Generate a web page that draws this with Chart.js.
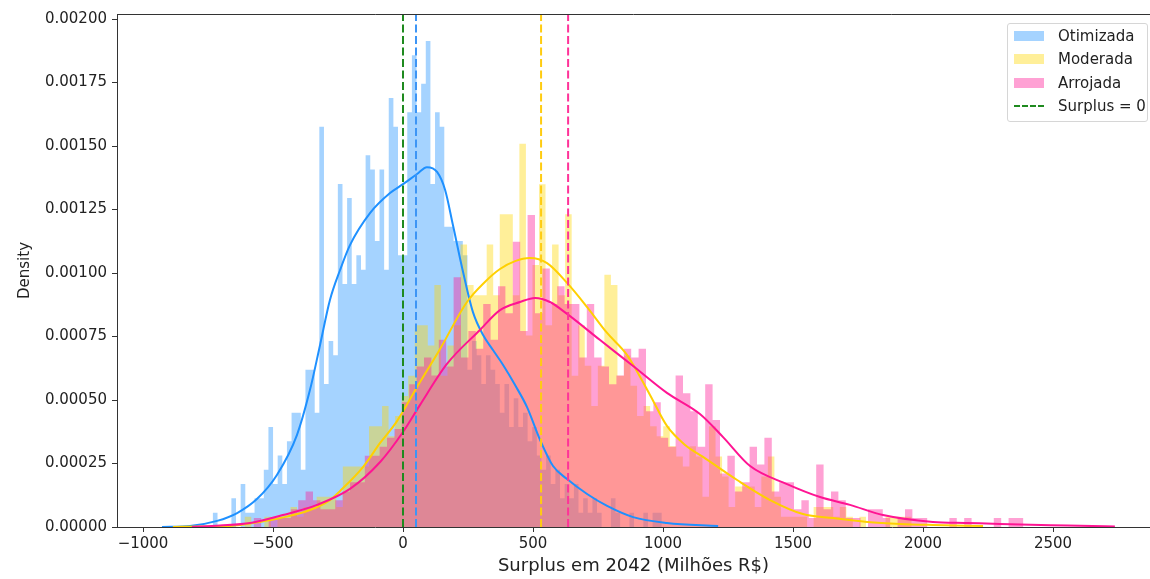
<!DOCTYPE html>
<html>
<head>
<meta charset="utf-8">
<script src="https://cdn.jsdelivr.net/npm/chart.js@4.4.0/dist/chart.umd.min.js"></script>
<style>
  body { margin: 0; background: #fff; }
  #wrap { position: relative; width: 1150px; height: 579px; }
  #grafico { position: absolute; left: 0; top: 0; width: 1150px; height: 579px; }
  #legenda {
    position: absolute; left: 1007px; top: 23px; width: 139px; height: 97px;
    border: 1px solid #d6d6d6; border-radius: 3px; background: rgba(255,255,255,0.8);
    font-family: "DejaVu Sans", sans-serif; font-size: 15px; color: #222;
  }
  .item { position: absolute; left: 0; height: 20px; width: 139px; }
  .item span.cx { position: absolute; left: 6px; top: 5px; width: 30px; height: 10px; }
  .item span.tx { position: absolute; left: 50px; top: 0; line-height: 20px; white-space: nowrap; }
  .item span.ln { position: absolute; left: 6px; top: 9px; width: 30px; height: 0; border-top: 2px dashed #1f8a1f; }
</style>
</head>
<body>
<div id="wrap">
  <canvas id="grafico" width="1150" height="579"></canvas>
  <div id="legenda"></div>
</div>
<script>
// nomes das carteiras e cores
const carteiras = ["Otimizada", "Moderada", "Arrojada"];
const corLinha = ["#1e90ff", "#ffd000", "#ff1493"];
const corBarra = ["rgba(30,144,255,0.4)", "rgba(255,215,0,0.4)", "rgba(255,20,147,0.4)"];

// ticks dos eixos
const xTicks = [-1000, -500, 0, 500, 1000, 1500, 2000, 2500];
const yTicks = [0, 0.00025, 0.0005, 0.00075, 0.001, 0.00125, 0.0015, 0.00175, 0.002];

// histogramas (stat = density): inicio do primeiro bin e largura do bin
const inicioBin = [-927, -885.4, -801.5];
const larguraBin = [17.8, 25.15, 28.46];

const densOtimizada = [0,0,0,0,0,0,0,0,0,0,0,0,
  5.6e-5,0,0,0,1.13e-4,0,1.69e-4,5.6e-5,5.6e-5,1.13e-4,
  1.13e-4,2.25e-4,3.94e-4,1.69e-4,2.82e-4,1.69e-4,3.38e-4,4.5e-4,4.5e-4,2.25e-4,
  6.19e-4,6.19e-4,4.5e-4,1.576e-3,5.63e-4,7.32e-4,6.76e-4,1.351e-3,9.57e-4,1.295e-3,
  9.57e-4,1.07e-3,1.013e-3,1.464e-3,1.408e-3,1.126e-3,1.408e-3,1.013e-3,1.689e-3,1.576e-3,
  1.07e-3,1.07e-3,1.633e-3,1.858e-3,1.633e-3,1.745e-3,1.914e-3,1.351e-3,1.633e-3,1.576e-3,
  1.182e-3,1.182e-3,1.126e-3,1.126e-3,1.07e-3,6.19e-4,7.32e-4,6.76e-4,5.63e-4,6.76e-4,
  6.19e-4,5.63e-4,4.5e-4,5.63e-4,3.94e-4,5.07e-4,3.94e-4,4.5e-4,3.38e-4,3.94e-4,
  2.82e-4,2.25e-4,2.82e-4,1.69e-4,2.25e-4,1.13e-4,1.69e-4,1.13e-4,1.69e-4,5.6e-5,
  1.13e-4,5.6e-5,1.13e-4,5.6e-5,0,0,1.13e-4,5.6e-5,0,0,
  5.6e-5,0,0,5.6e-5,0,5.6e-5];

const densModerada = [0,0,0,0,0,0,0,0,0,0,0,0,
  4.0e-5,0,0,4.0e-5,0,4.0e-5,4.0e-5,7.9e-5,4.0e-5,7.9e-5,
  7.9e-5,1.19e-4,1.19e-4,1.19e-4,7.9e-5,2.38e-4,2.38e-4,2.38e-4,2.38e-4,3.97e-4,
  3.97e-4,4.76e-4,3.57e-4,4.37e-4,5.16e-4,5.96e-4,7.94e-4,7.94e-4,7.15e-4,9.53e-4,
  5.96e-4,7.15e-4,7.94e-4,1.112e-3,9.53e-4,9.13e-4,9.13e-4,1.112e-3,9.13e-4,1.231e-3,
  1.231e-3,9.13e-4,1.509e-3,7.54e-4,1.032e-3,1.35e-3,7.94e-4,1.112e-3,9.13e-4,1.231e-3,
  5.96e-4,7.94e-4,6.35e-4,4.76e-4,6.35e-4,9.93e-4,9.53e-4,5.96e-4,6.75e-4,5.56e-4,
  4.37e-4,4.76e-4,3.97e-4,3.57e-4,3.97e-4,3.18e-4,2.78e-4,2.38e-4,3.18e-4,2.78e-4,
  1.19e-4,3.97e-4,2.78e-4,1.99e-4,7.9e-5,1.59e-4,1.59e-4,1.59e-4,7.9e-5,1.99e-4,
  2.78e-4,1.19e-4,4.0e-5,4.0e-5,4.0e-5,4.0e-5,0,7.9e-5,7.9e-5,7.9e-5,
  4.0e-5,7.9e-5,4.0e-5,0,4.0e-5,0,0,0,4.0e-5,4.0e-5,
  4.0e-5];

const densArrojada = [0,0,0,0,0,0,0,0,0,
  3.5e-5,0,3.5e-5,3.5e-5,3.5e-5,7.0e-5,1.05e-4,1.4e-4,1.05e-4,7.0e-5,
  7.0e-5,1.05e-4,1.4e-4,1.76e-4,1.76e-4,2.81e-4,2.81e-4,3.16e-4,3.51e-4,3.86e-4,
  4.91e-4,5.62e-4,6.32e-4,6.67e-4,5.97e-4,7.37e-4,6.32e-4,9.83e-4,6.67e-4,7.72e-4,
  7.02e-4,8.78e-4,7.37e-4,9.48e-4,8.42e-4,1.123e-3,7.72e-4,1.229e-3,8.42e-4,1.018e-3,
  8.78e-4,9.48e-4,8.78e-4,8.78e-4,6.67e-4,8.78e-4,6.67e-4,6.32e-4,5.62e-4,5.97e-4,
  7.02e-4,6.67e-4,7.02e-4,4.56e-4,4.91e-4,3.51e-4,3.16e-4,5.97e-4,5.27e-4,4.56e-4,
  3.16e-4,5.62e-4,4.21e-4,2.11e-4,2.81e-4,1.4e-4,1.76e-4,3.16e-4,2.46e-4,3.51e-4,
  1.4e-4,1.76e-4,1.76e-4,7.0e-5,1.05e-4,3.5e-5,2.46e-4,7.0e-5,1.4e-4,1.05e-4,
  3.5e-5,3.5e-5,0,7.0e-5,7.0e-5,3.5e-5,0,3.5e-5,7.0e-5,3.5e-5,
  3.5e-5,0,0,0,3.5e-5,0,3.5e-5,0,0,0,
  3.5e-5,0,3.5e-5];

// curvas KDE
const kdeOtimizadaX = [-927,-819,-715,-638,-562,-485,-408,-358,-319,-281,-242,-204,-127,-50,0,54,92,131,162,192,231,269,308,346,385,431,477,527,577,631,708,785,885,1015,1212];
const kdeOtimizadaY = [0,4e-6,2.4e-5,5.5e-5,1.1e-4,2.05e-4,3.62e-4,5.39e-4,7.17e-4,8.94e-4,1.012e-3,1.11e-3,1.236e-3,1.315e-3,1.35e-3,1.39e-3,1.417e-3,1.398e-3,1.327e-3,1.189e-3,1.004e-3,8.46e-4,7.56e-4,6.97e-4,6.38e-4,5.59e-4,4.72e-4,3.43e-4,2.4e-4,1.89e-4,1.3e-4,8.3e-5,3.9e-5,1.6e-5,4e-6];

const kdeModeradaX = [-885,-781,-665,-550,-473,-358,-281,-242,-154,-88,-23,54,142,246,315,373,431,488,554,631,708,785,862,950,1015,1085,1154,1285,1412,1538,1654,1785,1912,2038,2231];
const kdeModeradaY = [0,2e-6,4e-6,2e-5,3.5e-5,6.7e-5,1.06e-4,1.42e-4,2.36e-4,3.31e-4,4.17e-4,5.51e-4,7.0e-4,8.86e-4,9.65e-4,1.016e-3,1.047e-3,1.059e-3,1.039e-3,9.61e-4,8.66e-4,7.64e-4,6.77e-4,5.2e-4,3.98e-4,3.23e-4,2.76e-4,1.85e-4,1.06e-4,5.1e-5,3.5e-5,2.0e-5,1.2e-5,8e-6,4e-6];

const kdeArrojadaX = [-812,-704,-588,-462,-331,-204,-88,0,65,169,296,373,450,508,565,631,758,885,1015,1142,1231,1335,1477,1604,1719,1846,2038,2169,2296,2554,2738];
const kdeArrojadaY = [0,6e-6,1.6e-5,4.7e-5,8.7e-5,1.5e-4,2.56e-4,3.74e-4,4.8e-4,6.42e-4,7.76e-4,8.54e-4,8.86e-4,9.02e-4,8.86e-4,8.39e-4,7.36e-4,6.34e-4,5.28e-4,4.45e-4,3.54e-4,2.4e-4,1.69e-4,1.18e-4,8.7e-5,4.7e-5,2.0e-5,1.6e-5,1.2e-5,6e-6,2e-6];

// medias (linhas tracejadas) e surplus = 0
const medias = [50, 531, 635];
const surplusZero = 0;

const yMax = 0.00202;

function pontosHist(inicio, largura, dens) {
    let pts = dens.map((d, i) => ({ x: inicio + i * largura, y: d }));
    pts.push({ x: inicio + dens.length * largura, y: dens[dens.length - 1] });
    return pts;
}

function pontosKde(xs, ys) {
    return xs.map((x, i) => ({ x: x, y: ys[i] }));
}

function linhaVertical(x, cor, ordem) {
    return {
        data: [{ x: x, y: 0 }, { x: x, y: yMax }],
        borderColor: cor, borderWidth: 2, borderDash: [8, 3.5],
        pointRadius: 0, fill: false, order: ordem
    };
}

const histDens = [densOtimizada, densModerada, densArrojada];
const kdes = [[kdeOtimizadaX, kdeOtimizadaY], [kdeModeradaX, kdeModeradaY], [kdeArrojadaX, kdeArrojadaY]];

let datasets = [];
for (let s = 0; s < 3; s++) {
    datasets.push({
        label: carteiras[s],
        data: pontosHist(inicioBin[s], larguraBin[s], histDens[s]),
        stepped: "after",
        borderWidth: 0,
        borderColor: "rgba(0,0,0,0)",
        backgroundColor: corBarra[s],
        fill: "origin",
        pointRadius: 0,
        order: 20 - s
    });
}
for (let s = 0; s < 3; s++) {
    datasets.push({
        label: carteiras[s] + " kde",
        data: pontosKde(kdes[s][0], kdes[s][1]),
        borderColor: corLinha[s],
        borderWidth: 2,
        cubicInterpolationMode: "monotone",
        pointRadius: 0,
        fill: false,
        order: 10 - s
    });
}
datasets.push(linhaVertical(surplusZero, "#1f8a1f", 4));
datasets.push(linhaVertical(medias[0], "#3d95f5", 3));
datasets.push(linhaVertical(medias[1], "#ffcc11", 2));
datasets.push(linhaVertical(medias[2], "#ff3399", 1));

// borda de cima do grafico
const bordaTopo = {
    id: "bordaTopo",
    afterDraw(chart) {
        const a = chart.chartArea, ctx = chart.ctx;
        ctx.save();
        ctx.strokeStyle = "#333";
        ctx.lineWidth = 1;
        ctx.beginPath();
        ctx.moveTo(a.left, a.top + 0.5);
        ctx.lineTo(a.right, a.top + 0.5);
        ctx.stroke();
        ctx.restore();
    }
};

Chart.defaults.font.family = "DejaVu Sans";
Chart.defaults.font.size = 15;
Chart.defaults.color = "#222";

new Chart(document.getElementById("grafico"), {
    type: "line",
    data: { datasets: datasets },
    options: {
        responsive: false,
        animation: false,
        layout: { padding: { top: 14, right: 0, left: 0, bottom: 0 } },
        plugins: { legend: { display: false }, tooltip: { enabled: false } },
        scales: {
            x: {
                type: "linear",
                min: -1100, max: 2873,
                grid: { drawOnChartArea: false, drawTicks: true, tickLength: 5, color: "#333" },
                border: { display: true, color: "#333", width: 1 },
                ticks: {
                    padding: 3, maxRotation: 0, autoSkip: false,
                    callback: v => (v < 0 ? "\u2212" + Math.abs(v) : String(v))
                },
                afterBuildTicks: s => { s.ticks = xTicks.map(v => ({ value: v })); },
                title: { display: true, text: "Surplus em 2042 (Milhões R$)", font: { size: 18 }, padding: { top: 0, bottom: 2 } },
                afterFit: s => { s.height = 52; }
            },
            y: {
                min: 0, max: yMax,
                grid: { drawOnChartArea: false, drawTicks: true, tickLength: 5, color: "#333" },
                border: { display: true, color: "#333", width: 1 },
                ticks: { padding: 5, autoSkip: false, callback: v => v.toFixed(5) },
                afterBuildTicks: s => { s.ticks = yTicks.map(v => ({ value: v })); },
                title: { display: true, text: "Density", font: { size: 15 }, padding: { top: 16, bottom: 0 } },
                afterFit: s => { s.width = 117; }
            }
        }
    },
    plugins: [bordaTopo]
});

// legenda
const legenda = document.getElementById("legenda");
const topos = [2, 25, 49, 72];
for (let s = 0; s < 4; s++) {
    let item = document.createElement("div");
    item.className = "item";
    item.style.top = topos[s] + "px";
    if (s < 3) {
        item.innerHTML = '<span class="cx" style="background:' + corBarra[s] + '"></span><span class="tx">' + carteiras[s] + '</span>';
    } else {
        item.innerHTML = '<span class="ln"></span><span class="tx">Surplus = 0</span>';
    }
    legenda.appendChild(item);
}
</script>
</body>
</html>
